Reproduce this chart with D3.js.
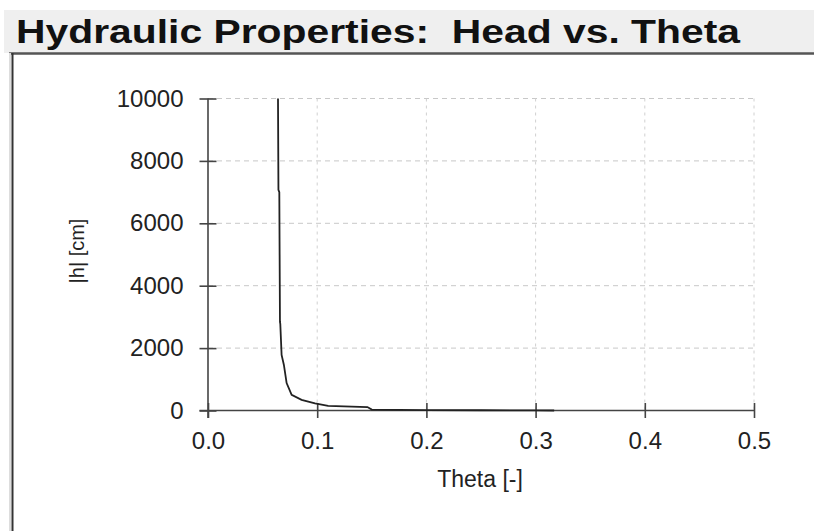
<!DOCTYPE html>
<html>
<head>
<meta charset="utf-8">
<script src="https://cdn.jsdelivr.net/npm/d3@7"></script>
<style>
  html, body { margin: 0; padding: 0; background: #fff; }
  svg { display: block; font-family: "Liberation Sans", Arial, sans-serif; }
</style>
</head>
<body>
<svg id="chart" width="814" height="531"></svg>
<script>
// ---- data ----
const titleText = "Hydraulic Properties:  Head vs. Theta";
const xLabel = "Theta [-]";
const yLabel = "|h| [cm]";
const xTicks = [0.0, 0.1, 0.2, 0.3, 0.4, 0.5];
const xTickLabels = ["0.0", "0.1", "0.2", "0.3", "0.4", "0.5"];
const yTicks = [0, 2000, 4000, 6000, 8000, 10000];
const yTickLabels = ["0", "2000", "4000", "6000", "8000", "10000"];
const theta = [0.0641, 0.0645, 0.0653, 0.0659, 0.0662, 0.0674, 0.0695, 0.0720, 0.0766, 0.0857, 0.0980, 0.1100, 0.1460, 0.1500, 0.2000, 0.2500, 0.3000, 0.3170];
const head  = [10000, 7070, 7000, 2840, 2780, 1780, 1460, 880, 500, 340, 230, 145, 110, 30, 15, 8, 3, 0];

// ---- layout ----
const svg = d3.select("#chart");
const W = 814, H = 531;
const plot = { left: 208, right: 754, top: 98.5, bottom: 410.5 };

// header band
svg.append("rect").attr("x", 4).attr("y", 10).attr("width", W - 4).attr("height", 43).attr("fill", "#efefef");
svg.append("text")
  .attr("x", 16).attr("y", 43)
  .attr("font-size", 33).attr("font-weight", "bold").attr("fill", "#111")
  .attr("textLength", 724).attr("lengthAdjust", "spacingAndGlyphs")
  .style("white-space", "pre")
  .text(titleText);

// panel border
svg.append("line").attr("x1", 9).attr("x2", W).attr("y1", 53.5).attr("y2", 53.5).attr("stroke", "#555").attr("stroke-width", 2.5);
svg.append("line").attr("x1", 10).attr("x2", 10).attr("y1", 53).attr("y2", H).attr("stroke", "#ddd").attr("stroke-width", 2);
svg.append("line").attr("x1", 12.5).attr("x2", 12.5).attr("y1", 53).attr("y2", H).attr("stroke", "#333").attr("stroke-width", 2);

// scales
const x = d3.scaleLinear().domain([0, 0.5]).range([plot.left, plot.right]);
const y = d3.scaleLinear().domain([0, 10000]).range([plot.bottom, plot.top]);

// grid
const grid = svg.append("g");
grid.selectAll("line.h").data(yTicks.filter(d => d > 0)).join("line")
  .attr("x1", plot.left).attr("x2", plot.right)
  .attr("y1", d => y(d)).attr("y2", d => y(d))
  .attr("stroke", "#c8c8c8").attr("stroke-width", 1).attr("stroke-dasharray", "5,4");
grid.selectAll("line.v").data(xTicks.filter(d => d > 0)).join("line")
  .attr("x1", d => x(d)).attr("x2", d => x(d))
  .attr("y1", plot.top).attr("y2", plot.bottom)
  .attr("stroke", "#d0d0d0").attr("stroke-width", 1).attr("stroke-dasharray", "3,4");

// axes
const yAxis = svg.append("g").attr("transform", `translate(${plot.left},0)`)
  .call(d3.axisLeft(y).tickValues(yTicks).tickFormat((d, i) => yTickLabels[i]).tickSize(8.5).tickPadding(16));
yAxis.select(".domain").remove();
yAxis.selectAll(".tick line").attr("x1", 8.5).attr("x2", -8.5).attr("stroke", "#444").attr("stroke-width", 1.6);
yAxis.selectAll(".tick text").attr("font-size", 24).attr("fill", "#222").attr("font-family", "Liberation Sans, Arial, sans-serif");

const xAxis = svg.append("g").attr("transform", `translate(0,${plot.bottom})`)
  .call(d3.axisBottom(x).tickValues(xTicks).tickFormat((d, i) => xTickLabels[i]).tickSize(7.5).tickPadding(14));
xAxis.select(".domain").remove();
xAxis.selectAll(".tick line").attr("y1", -7.5).attr("y2", 7.5).attr("stroke", "#444").attr("stroke-width", 1.6);
xAxis.selectAll(".tick text").attr("font-size", 24).attr("fill", "#222").attr("font-family", "Liberation Sans, Arial, sans-serif");

// axis lines
svg.append("line").attr("x1", plot.left).attr("x2", plot.left).attr("y1", plot.top).attr("y2", plot.bottom + 7.5)
  .attr("stroke", "#444").attr("stroke-width", 1.6);
svg.append("line").attr("x1", plot.left - 8.5).attr("x2", plot.right).attr("y1", plot.bottom).attr("y2", plot.bottom)
  .attr("stroke", "#444").attr("stroke-width", 1.6);

// curve
const pts = theta.map((t, i) => [t, head[i]]);
svg.append("path").datum(pts)
  .attr("fill", "none").attr("stroke", "#222").attr("stroke-width", 1.8)
  .attr("d", d3.line().x(d => x(d[0])).y(d => y(d[1])));

// axis titles
svg.append("text").attr("x", 480).attr("y", 487).attr("text-anchor", "middle")
  .attr("font-size", 23).attr("fill", "#222").text(xLabel);
svg.append("text").attr("transform", "translate(84,251) rotate(-90)").attr("text-anchor", "middle")
  .attr("font-size", 20).attr("fill", "#222").text(yLabel);
</script>
</body>
</html>
